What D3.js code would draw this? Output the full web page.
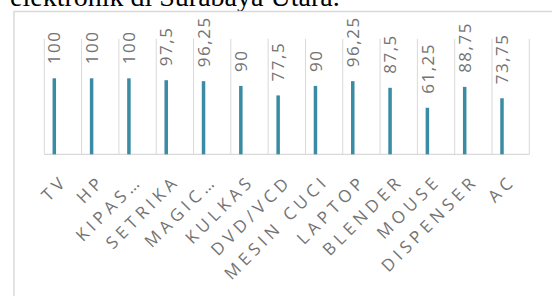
<!DOCTYPE html>
<html>
<head>
<meta charset="utf-8">
<script src="https://cdn.jsdelivr.net/npm/d3@7"></script>
<style>
  html, body { margin: 0; padding: 0; background: #fff; }
  svg { display: block; }
</style>
</head>
<body>
<script>
const categories = ["TV","HP","KIPAS…","SETRIKA","MAGIC…","KULKAS","DVD/VCD","MESIN CUCI","LAPTOP","BLENDER","MOUSE","DISPENSER","AC"];
const values = [100,100,100,97.5,96.25,90,77.5,90,96.25,87.5,61.25,88.75,73.75];
const valueLabels = ["100","100","100","97,5","96,25","90","77,5","90","96,25","87,5","61,25","88,75","73,75"];
const titleText = "elektronik di Surabaya Utara.";

const W = 552, H = 296;
const svg = d3.select("body").append("svg").attr("width", W).attr("height", H);

// title fragment (cut off at top, as in the reference)
svg.append("text").attr("x", 10).attr("y", 6)
  .attr("font-family", "'Liberation Serif', 'Times New Roman', serif")
  .attr("font-size", 28).attr("fill", "#000").text(titleText);

// chart frame
svg.append("rect").attr("x", 14).attr("y", 11.5).attr("width", 560).attr("height", 300)
  .attr("fill", "none").attr("stroke", "#d9d9d9").attr("stroke-width", 1.5);

const x = d3.scaleBand().domain(categories).range([44.3, 529.3]).padding(0);
const y = d3.scaleLinear().domain([0, 152]).range([154.3, 38.8]);

// vertical gridlines at band boundaries
const bounds = categories.map(c => x(c)).concat([x(categories[categories.length-1]) + x.bandwidth()]);
svg.append("g").selectAll("line").data(bounds).join("line")
  .attr("x1", d => d).attr("x2", d => d)
  .attr("y1", y(152)).attr("y2", y(0))
  .attr("stroke", "#d9d9d9").attr("stroke-width", 1);

// baseline
svg.append("line").attr("x1", x.range()[0]).attr("x2", x.range()[1])
  .attr("y1", y(0)).attr("y2", y(0)).attr("stroke", "#d9d9d9").attr("stroke-width", 1.2);

const barOff = x.bandwidth() * 0.268;
const barW = 3.5;

svg.append("g").selectAll("rect").data(values).join("rect")
  .attr("x", (d, i) => x(categories[i]) + barOff - barW / 2)
  .attr("y", d => y(d))
  .attr("width", barW)
  .attr("height", d => y(0) - y(d))
  .attr("fill", "#3a8ca4");

// data labels
svg.append("g").selectAll("text").data(values).join("text")
  .attr("transform", (d, i) => `translate(${x(categories[i]) + barOff},${y(d) - 14}) rotate(-90)`)
  .attr("dy", "0.36em")
  .attr("text-anchor", "start")
  .attr("font-family", "'Open Sans', sans-serif")
  .attr("font-size", 17)
  .style("letter-spacing", "1.5px")
  .attr("fill", "#737373")
  .text((d, i) => valueLabels[i]);

// x labels
svg.append("g").selectAll("text").data(categories).join("text")
  .attr("transform", d => `translate(${x(d) + x.bandwidth() / 2 + 6},${182}) rotate(-45)`)
  .attr("text-anchor", "end")
  .attr("font-family", "'Open Sans', sans-serif")
  .attr("font-size", 17)
  .style("letter-spacing", "4.5px")
  .attr("fill", "#737373")
  .text(d => d);
</script>
</body>
</html>
